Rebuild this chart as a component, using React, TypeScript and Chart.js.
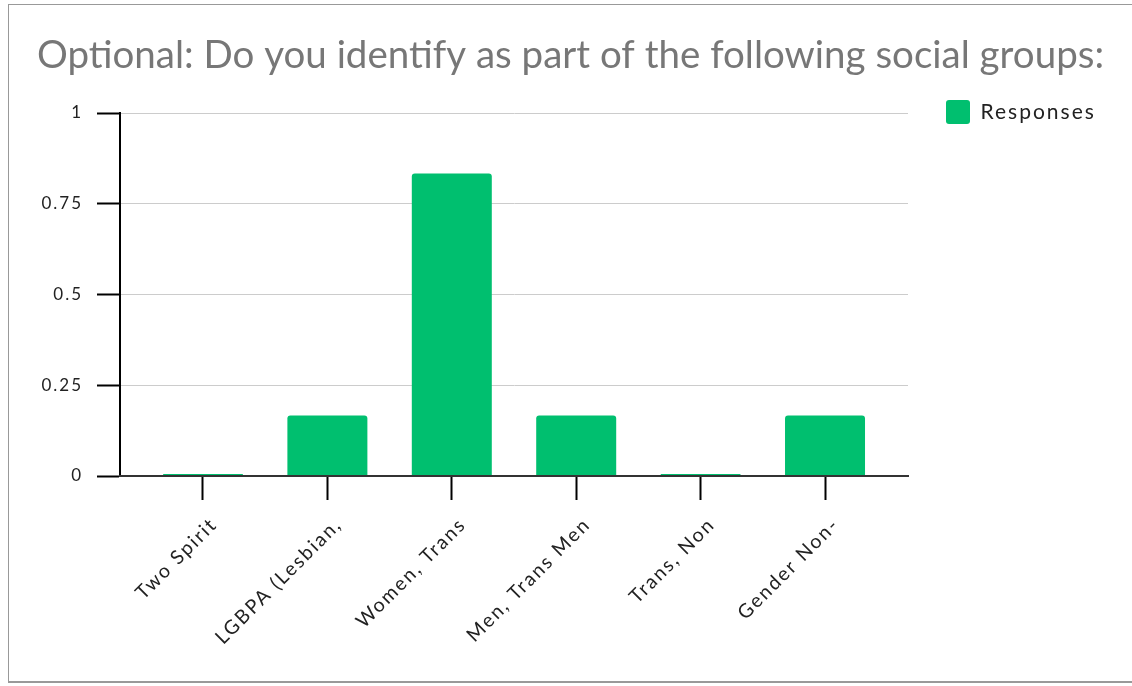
import { useEffect, useRef } from 'react';
import { Chart, registerables } from 'chart.js';

Chart.register(...registerables);

const chartTitle = 'Optional: Do you identify as part of the following social groups:';
const seriesName = 'Responses';
const categories = ['Two Spirit', 'LGBPA (Lesbian,', 'Women, Trans', 'Men, Trans Men', 'Trans, Non', 'Gender Non-'];
const responses = [0, 0.167, 0.833, 0.167, 0, 0.167];
const yTickValues = [0, 0.25, 0.5, 0.75, 1];
const yTickLabels = ['0', '0.25', '0.5', '0.75', '1'];

const CANVAS_W = 1123;
const CANVAS_H = 676;
const FONT = 'Lato, "Open Sans", sans-serif';
const SPACING = '2px';
const GREEN = '#00bf6f';
const TEXT = '#222222';

// layout targets inside the canvas
const Y_AXIS_WIDTH = 111;
const X_AXIS_HEIGHT = 205;
const LEGEND_BOX_X = 937;
const LEGEND_BOX_Y = 95;

// Letter-spaced axis/legend text; the title keeps normal spacing.
const textSpacing = {
  id: 'textSpacing',
  beforeLayout(chart: any) {
    chart.ctx.letterSpacing = SPACING;
  },
  afterLayout(chart: any) {
    const legend = chart.legend;
    if (legend) {
      const pad = legend.options.labels.padding;
      legend.left = LEGEND_BOX_X - pad;
      legend.right = CANVAS_W;
      legend.top = LEGEND_BOX_Y - pad;
      legend.bottom = CANVAS_H;
    }
    const title = chart.titleBlock;
    if (title && !title._plainSpacing) {
      const draw = title.draw.bind(title);
      title.draw = (area: any) => {
        const ctx = chart.ctx;
        ctx.save();
        ctx.letterSpacing = '0px';
        draw(area);
        ctx.restore();
      };
      title._plainSpacing = true;
    }
  },
  beforeDraw(chart: any) {
    chart.ctx.letterSpacing = SPACING;
  },
};

export default function App() {
  const canvasRef = useRef<HTMLCanvasElement | null>(null);

  useEffect(() => {
    const canvas = canvasRef.current;
    if (!canvas) return;
    const points = categories.map((_, i) => ({ x: i, y: responses[i] }));
    const chart = new Chart(canvas, {
      type: 'bar',
      data: {
        datasets: [
          {
            label: seriesName,
            data: points,
            backgroundColor: GREEN,
            borderWidth: 0,
            borderRadius: 3,
            barPercentage: 0.643,
            categoryPercentage: 1,
            minBarLength: 2,
          },
        ],
      },
      plugins: [textSpacing],
      options: {
        responsive: false,
        animation: false,
        layout: { padding: 0 },
        plugins: {
          tooltip: { enabled: false },
          title: {
            display: true,
            text: chartTitle,
            color: '#777777',
            font: { family: FONT, size: 38.5, weight: 'normal', lineHeight: 1.2 },
            padding: { top: 27, bottom: 34.8 },
          },
          legend: {
            display: true,
            position: 'right',
            align: 'start',
            maxWidth: CANVAS_W - 899,
            labels: {
              color: TEXT,
              font: { family: FONT, size: 21 },
              boxWidth: 24,
              boxHeight: 24,
              useBorderRadius: true,
              borderRadius: 3,
              padding: 80,
            },
          },
        },
        scales: {
          x: {
            type: 'linear',
            offset: false,
            min: -0.667,
            max: 5.667,
            afterBuildTicks: (s: any) => {
              s.ticks = categories.map((_, i) => ({ value: i }));
            },
            afterFit: (s: any) => {
              s.height = X_AXIS_HEIGHT;
            },
            ticks: {
              autoSkip: false,
              minRotation: 45,
              maxRotation: 45,
              padding: 13,
              labelOffset: 11,
              color: TEXT,
              font: { family: FONT, size: 19.5 },
              callback: (v: any) => categories[v] ?? '',
            },
            grid: {
              offset: false,
              drawOnChartArea: false,
              drawTicks: true,
              tickLength: 24,
              tickColor: '#000000',
              tickWidth: 2,
            },
            border: { display: true, color: '#333333', width: 2, z: 1 },
          },
          y: {
            type: 'linear',
            min: 0,
            max: 1,
            afterBuildTicks: (s: any) => {
              s.ticks = yTickValues.map((v) => ({ value: v }));
            },
            afterFit: (s: any) => {
              s.width = Y_AXIS_WIDTH;
            },
            ticks: {
              padding: 14,
              color: TEXT,
              font: { family: FONT, size: 17 },
              callback: (_v: any, i: number) => yTickLabels[i],
            },
            grid: {
              color: '#cccccc',
              lineWidth: 1,
              drawTicks: true,
              tickLength: 23,
              tickColor: '#000000',
              tickWidth: 2,
            },
            border: { display: true, color: '#000000', width: 2 },
          },
        },
      },
    } as any);
    return () => chart.destroy();
  }, []);

  return (
    <div
      style={{
        position: 'absolute',
        left: 8,
        top: 4,
        width: CANVAS_W,
        height: CANVAS_H,
        borderTop: '1px solid #999999',
        borderLeft: '1px solid #999999',
        borderBottom: '2px solid #999999',
        background: '#ffffff',
      }}
    >
      <canvas
        ref={canvasRef}
        width={CANVAS_W}
        height={CANVAS_H}
        style={{ display: 'block', width: CANVAS_W, height: CANVAS_H }}
      />
    </div>
  );
}
